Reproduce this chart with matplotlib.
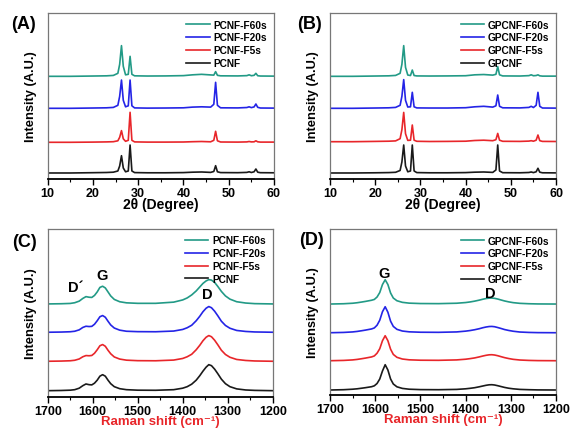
import numpy as np
import matplotlib
matplotlib.use("Agg")
import matplotlib.pyplot as plt

plt.rcParams['font.family'] = ['Liberation Sans', 'DejaVu Sans']
plt.rcParams['font.weight'] = 'bold'

# ---- XRD (panels A, B) ----
xrd_x = [10, 15, 20, 23, 24.5, 25.5, 25.9, 26.3, 26.7, 27.2, 27.8, 28.2, 28.6, 29.2,
         32, 36, 40, 42, 44, 46, 46.7, 47.1, 47.5, 48.2, 52, 54, 54.5, 55, 55.6, 56.0,
         56.4, 57, 60]

xrd_a = {
    'PCNF':      [0, 0, 0.3, 0.5, 0.8, 2, 7, 17.3, 5, 1.2, 2, 28, 2, 0.4,
                  0.2, 0.2, 0.4, 0.8, 1.0, 0.6, 1.5, 7.3, 1.2, 0.4, 0.3, 0.6, 1.2, 0.5, 1.2, 4,
                  0.8, 0.3, 0.2],
    'PCNF-F5s':  [0, 0, 0.2, 0.4, 0.6, 1.5, 5, 11.7, 3.5, 1.0, 2, 30, 2, 0.4,
                  0.2, 0.2, 0.3, 0.6, 0.8, 0.5, 2, 11, 1.5, 0.3, 0.2, 0.4, 0.8, 0.4, 0.5, 1.5,
                  0.5, 0.2, 0.2],
    'PCNF-F20s': [0, 0, 0.3, 0.5, 0.9, 3, 12, 28.3, 8, 1.5, 2.5, 28.3, 2.5, 0.4,
                  0.2, 0.3, 0.5, 1.2, 1.5, 1.2, 4, 26, 3, 0.5, 0.4, 0.8, 1.5, 0.7, 1.4, 4.3,
                  1.0, 0.3, 0.2],
    'PCNF-F60s': [0, 0, 0.3, 0.5, 0.9, 3, 12, 30.7, 10, 1.5, 2, 20, 2, 0.5,
                  0.3, 0.4, 0.7, 1.5, 2.0, 1.4, 1.2, 4.7, 1.0, 0.5, 0.4, 0.7, 1.5, 0.6, 1.0, 3,
                  0.6, 0.3, 0.2],
}

xrd_b = {
    'GPCNF':      [0, 0, 0.2, 0.4, 0.7, 2.5, 11, 28, 7, 1.2, 2, 28, 2, 0.4,
                   0.2, 0.2, 0.4, 0.8, 1.0, 0.6, 3, 28, 2, 0.3, 0.2, 0.5, 1.0, 0.4, 1.2, 4.7,
                   0.8, 0.2, 0.1],
    'GPCNF-F5s':  [0, 0, 0.3, 0.5, 0.8, 3, 12, 29.3, 8, 1.3, 1.5, 16.7, 1.5, 0.4,
                   0.2, 0.3, 0.5, 1.2, 1.5, 1.0, 2, 8.3, 1.5, 0.4, 0.3, 0.6, 1.0, 0.5, 1.5, 6.7,
                   1.0, 0.3, 0.2],
    'GPCNF-F20s': [0, 0, 0.3, 0.5, 0.9, 3, 12, 28.7, 8, 1.3, 1.5, 16, 1.5, 0.4,
                   0.3, 0.3, 0.6, 1.5, 2.0, 1.2, 2.5, 13.3, 2, 0.5, 0.4, 0.9, 2.0, 0.8, 3, 16,
                   2, 0.3, 0.2],
    'GPCNF-F60s': [0, 0, 0.3, 0.5, 0.9, 3, 12, 30.7, 9, 1.3, 0.8, 6.3, 0.8, 0.4,
                   0.3, 0.4, 0.6, 1.5, 1.8, 1.2, 2, 9.7, 1.5, 0.4, 0.3, 0.7, 1.5, 0.6, 0.8, 1.5,
                   0.5, 0.2, 0.2],
}
xrd_offsets_a = [6, 36.7, 70.7, 102.7]
xrd_offsets_b = [6, 37.3, 70.7, 102.7]

# ---- Raman (panels C, D) ----
raman_x = [1700, 1670, 1650, 1640, 1630, 1622, 1615, 1608, 1602, 1596, 1590, 1584, 1578,
           1572, 1566, 1560, 1552, 1540, 1525, 1500, 1460, 1420, 1400, 1390, 1380, 1370,
           1362, 1355, 1348, 1342, 1336, 1329, 1322, 1314, 1305, 1295, 1280, 1260, 1240, 1200]

raman_c = {
    'PCNF':      [0, 0.2, 0.5, 1.0, 2.5, 5, 6.7, 6.0, 5.8, 7.5, 10.5, 14.5, 16,
                  14.5, 10.5, 7, 4, 2, 1, 0.5, 0.4, 1.0, 2.5, 4, 6.5, 10.5,
                  15, 19.5, 23.5, 26, 25, 21.5, 17, 11.5, 7, 4, 1.8, 0.7, 0.3, 0],
    'PCNF-F5s':  [0, 0.2, 0.5, 1.0, 2.3, 4.5, 5.7, 5.5, 5.8, 8, 11.5, 15.5, 16.7,
                  15, 11, 7.5, 4.3, 2.2, 1.1, 0.6, 0.5, 1.2, 2.8, 4.5, 7, 11.5,
                  16, 20.5, 24, 25.7, 24.5, 21, 16.5, 11, 6.8, 4, 1.8, 0.8, 0.3, 0],
    'PCNF-F20s': [0, 0.2, 0.5, 1.0, 2.4, 4.8, 6.0, 5.7, 5.9, 8, 11.5, 15.5, 16.7,
                  15, 11, 7.3, 4.2, 2.1, 1.0, 0.6, 0.5, 1.2, 2.8, 4.5, 7, 11.5,
                  16, 20.5, 24, 25.7, 24.5, 21, 16.5, 11, 6.8, 4, 1.8, 0.8, 0.3, 0],
    'PCNF-F60s': [0, 0.2, 0.5, 1.2, 2.8, 5.5, 7.3, 6.7, 6.5, 8.5, 12, 16.5, 17.7,
                  16, 12, 8, 4.5, 2.2, 1.1, 0.6, 0.6, 1.8, 4, 6, 9, 13,
                  17, 20.5, 23, 24.3, 23.8, 21.5, 17.5, 12.5, 8, 4.8, 2.2, 0.9, 0.3, 0],
}
raman_d = {
    'GPCNF':      [0, 0.3, 0.8, 1.2, 1.8, 2.3, 2.8, 3.3, 4.2, 6.5, 11, 19, 25.3,
                   20, 11, 6, 3.2, 1.6, 0.8, 0.4, 0.3, 0.6, 1.2, 1.7, 2.3, 3.2,
                   4.0, 4.7, 5.2, 5.3, 5.0, 4.3, 3.5, 2.6, 1.8, 1.2, 0.6, 0.3, 0.1, 0],
    'GPCNF-F5s':  [0, 0.3, 0.8, 1.3, 2.0, 2.6, 3.2, 3.8, 4.8, 7.5, 12, 20, 25,
                   20, 11.5, 6.3, 3.4, 1.7, 0.9, 0.5, 0.4, 0.8, 1.5, 2.1, 2.8, 3.8,
                   4.7, 5.4, 5.9, 6.0, 5.7, 5.0, 4.1, 3.1, 2.2, 1.4, 0.7, 0.3, 0.1, 0],
    'GPCNF-F20s': [0, 0.3, 0.8, 1.3, 2.0, 2.6, 3.2, 3.8, 4.8, 7.5, 12.5, 21, 26,
                   20.5, 11.5, 6.3, 3.4, 1.7, 0.9, 0.5, 0.4, 0.8, 1.6, 2.2, 3.0, 4.0,
                   5.0, 5.7, 6.2, 6.3, 6.0, 5.2, 4.3, 3.2, 2.3, 1.5, 0.7, 0.3, 0.1, 0],
    'GPCNF-F60s': [0, 0.3, 0.8, 1.3, 2.0, 2.6, 3.2, 3.8, 4.6, 7, 11.5, 19.5, 24.3,
                   19.5, 11, 6, 3.3, 1.7, 0.9, 0.5, 0.4, 0.8, 1.5, 2.1, 2.9, 3.9,
                   4.8, 5.5, 5.9, 6.0, 5.7, 5.0, 4.1, 3.1, 2.2, 1.4, 0.7, 0.3, 0.1, 0],
}
raman_offsets_c = [6.3, 35.7, 64.7, 93]
raman_offsets_d = [5, 34.3, 62.3, 91]

colors = ['#1a1a1a', '#e8262a', '#2424e6', '#229a86']
fig = plt.figure(figsize=(5.7, 4.31), dpi=100)


def make_axes(rect, xlim, xticks, minor, ylim):
    ax = fig.add_axes(rect)
    ax.set_xlim(*xlim)
    ax.set_ylim(*ylim)
    ax.set_yticks([])
    ax.set_xticks(xticks)
    ax.set_xticks(minor, minor=True)
    ax.tick_params(axis='x', which='major', length=4, width=1, labelsize=9, pad=1.5)
    ax.tick_params(axis='x', which='minor', length=2.2, width=0.8)
    for s in ['top', 'left', 'right']:
        ax.spines[s].set_color('#777777')
        ax.spines[s].set_linewidth(0.9)
    ax.spines['bottom'].set_linewidth(1.3)
    for lab in ax.get_xticklabels():
        lab.set_fontweight('bold')
    ax.set_ylabel('Intensity (A.U.)', fontsize=9.3, fontweight='bold', labelpad=8)
    return ax


def draw(ax, x, series, offsets):
    names = list(series.keys())
    for name, off, c in zip(names, offsets, colors):
        ax.plot(x, np.array(series[name]) + off, color=c, lw=1.2, label=name)
    h, l = ax.get_legend_handles_labels()
    ax.legend(h[::-1], l[::-1], loc='upper right', frameon=False,
              handlelength=2.3, handletextpad=0.4, labelspacing=0.28,
              borderaxespad=0.25, prop={'weight': 'bold', 'size': 7.3})


xt = [10, 20, 30, 40, 50, 60]
xm = [15, 25, 35, 45, 55]
rt = [1700, 1600, 1500, 1400, 1300, 1200]
rm = [1650, 1550, 1450, 1350, 1250]

axA = make_axes([0.0837, 0.5824, 0.397, 0.385], (10, 60), xt, xm, (0, 166))
draw(axA, xrd_x, xrd_a, xrd_offsets_a)
axA.set_xlabel('2θ (Degree)', fontsize=10, fontweight='bold', labelpad=-1)

axB = make_axes([0.579, 0.5824, 0.3965, 0.385], (10, 60), xt, xm, (0, 166))
draw(axB, xrd_x, xrd_b, xrd_offsets_b)
axB.set_xlabel('2θ (Degree)', fontsize=10, fontweight='bold', labelpad=-1)

axC = make_axes([0.0837, 0.0766, 0.3947, 0.39], (1700, 1200), rt, rm, (0, 168))
draw(axC, raman_x, raman_c, raman_offsets_c)
axC.set_xlabel('Raman shift (cm⁻¹)', fontsize=9.5, fontweight='bold',
               color='#e8262a', labelpad=-1)
axC.text(1638, 110, 'D´', fontsize=10.5, fontweight='bold', ha='center', va='center')
axC.text(1580, 122, 'G', fontsize=10.5, fontweight='bold', ha='center', va='center')
axC.text(1345, 103, 'D', fontsize=10.5, fontweight='bold', ha='center', va='center')

axD = make_axes([0.579, 0.0812, 0.3965, 0.385], (1700, 1200), rt, rm, (0, 166))
draw(axD, raman_x, raman_d, raman_offsets_d)
axD.set_xlabel('Raman shift (cm⁻¹)', fontsize=9.5, fontweight='bold',
               color='#e8262a', labelpad=-1)
axD.text(1580, 122, 'G', fontsize=10.5, fontweight='bold', ha='center', va='center')
axD.text(1345, 102, 'D', fontsize=10.5, fontweight='bold', ha='center', va='center')

for lab, x, y in [('(A)', 0.02, 0.942), ('(B)', 0.522, 0.942),
                  ('(C)', 0.022, 0.438), ('(D)', 0.524, 0.443)]:
    fig.text(x, y, lab, fontsize=13, fontweight='bold', va='center')

fig.savefig('out.png', dpi=100)
